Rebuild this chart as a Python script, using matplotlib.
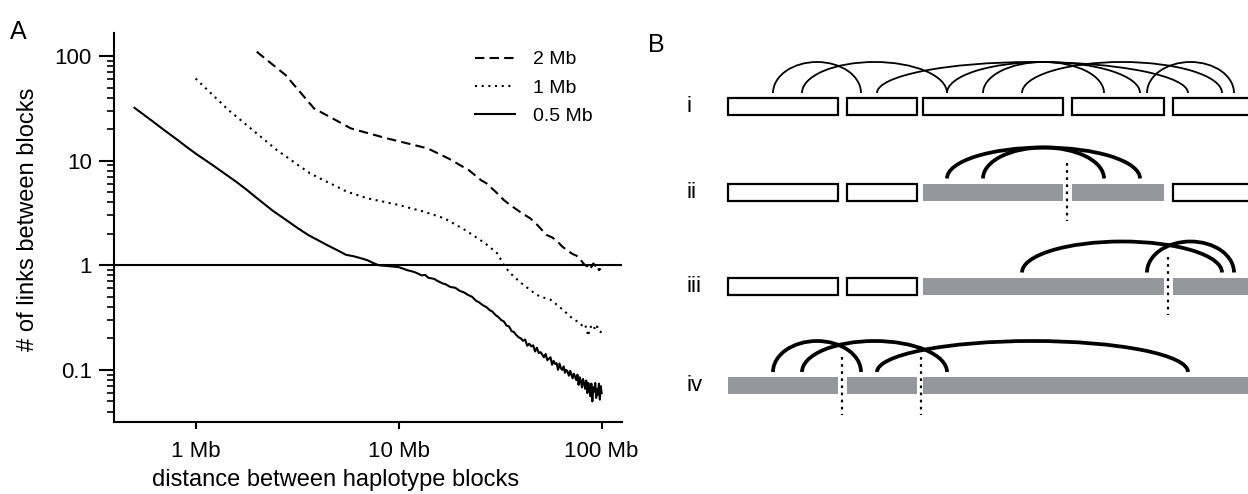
import numpy as np
import matplotlib
matplotlib.use("Agg")
import matplotlib.pyplot as plt
from matplotlib.patches import Rectangle, Arc

plt.rcParams["font.family"] = ["Liberation Sans", "DejaVu Sans"]

# ---- panel A: links between blocks vs. distance (Mb), one series per block size
x_2mb = [2, 2.2, 2.4, 2.77, 3.2, 3.83, 4.3, 5, 5.8, 7, 8.8, 11.1, 13.9, 17.6, 20,
         22.2, 25.5, 27, 30, 33, 35.4, 40, 44.5, 48, 53.5, 57, 60, 64, 68, 72,
         75, 78, 81, 83, 85, 87, 89, 91, 93, 95, 97, 99]
y_2mb = [110, 94.7, 82.6, 66, 47.6, 31.6, 28, 23.9, 20.4, 18.4, 16.3, 14.6, 13.1,
         10.5, 9.1, 8.1, 6.5, 6.1, 5.06, 4.2, 3.77, 3.2, 2.81, 2.45, 1.95, 1.85,
         1.72, 1.51, 1.38, 1.28, 1.24, 1.16, 1.05, 1.0, 0.98, 1.03, 0.96, 1.04,
         0.99, 1.02, 0.9, 0.93]

x_1mb = [1, 1.1, 1.2, 1.3, 1.45, 1.6, 1.8, 2.0, 2.25, 2.5, 2.8, 3.2, 3.65, 4.2,
         4.8, 5.55, 6.2, 7, 8, 9, 10, 11.5, 13.3, 15, 16.8, 19, 21.2, 24, 26.7,
         28.5, 30.6, 32, 33, 34, 35.5, 37, 40, 44.5, 48, 52, 55.8, 58, 60, 63,
         66, 70.5, 74, 78, 81, 83, 85, 86, 87, 89, 91, 93, 95, 97, 99, 100]
y_1mb = [61, 51, 43.4, 37.4, 30.5, 26.1, 21.6, 18.2, 15.1, 12.7, 10.9, 9.07, 7.6,
         6.6, 5.83, 5.06, 4.72, 4.37, 4.14, 3.94, 3.77, 3.51, 3.26, 3.02, 2.81,
         2.46, 2.18, 1.86, 1.62, 1.46, 1.30, 1.12, 1.0, 0.93, 0.84, 0.78, 0.68,
         0.58, 0.52, 0.49, 0.47, 0.45, 0.42, 0.39, 0.36, 0.32, 0.30, 0.28, 0.26,
         0.27, 0.23, 0.21, 0.25, 0.26, 0.27, 0.24, 0.26, 0.235, 0.23, 0.235]

x_05mb = [0.5, 0.6, 0.7, 0.8, 0.9, 1.0, 1.2, 1.4, 1.6, 1.8, 2.0, 2.4, 2.8, 3.2,
          3.6, 4.0, 4.5, 5.0, 5.5, 6.0, 6.5, 7.0, 7.5, 8.0, 8.5, 9.0, 9.5, 10,
          10.5, 11, 11.5, 12, 12.5, 13, 13.5, 14, 14.5, 15, 15.5, 16, 16.5, 17,
          18, 19, 20, 21, 22, 23, 24, 25, 26, 27, 28, 29, 30, 31, 32, 33, 34, 35,
          36, 37, 38, 39, 40, 41, 42, 43, 44, 45, 46, 47, 48, 49, 50, 51, 52, 53,
          54, 55, 56, 57, 58, 59, 60, 61, 62, 63, 64, 65, 66, 67, 68, 69, 70, 71,
          72, 73, 74, 75, 76, 77, 78, 79, 80, 81, 82, 83, 84, 85, 86, 87, 88, 89,
          90, 91, 92, 93, 94, 95, 96, 97, 98, 99, 100]
y_05mb = [32, 24.6, 19.6, 16.2, 13.6, 11.7, 9.2, 7.45, 6.2, 5.2, 4.4, 3.32, 2.7,
          2.25, 1.94, 1.74, 1.54, 1.39, 1.26, 1.22, 1.17, 1.12, 1.05, 1.0, 0.99,
          0.98, 0.97, 0.96, 0.93, 0.90, 0.88, 0.86, 0.83, 0.80, 0.81, 0.76, 0.75,
          0.74, 0.71, 0.69, 0.67, 0.66, 0.62, 0.61, 0.57, 0.55, 0.52, 0.50, 0.46,
          0.44, 0.415, 0.40, 0.375, 0.36, 0.335, 0.32, 0.30, 0.29, 0.265, 0.26,
          0.235, 0.23, 0.215, 0.205, 0.2, 0.19, 0.195, 0.17, 0.178, 0.168, 0.172,
          0.15, 0.163, 0.145, 0.148, 0.14, 0.132, 0.142, 0.124, 0.128, 0.132,
          0.112, 0.122, 0.114, 0.116, 0.1, 0.115, 0.104, 0.1, 0.108, 0.094, 0.1,
          0.096, 0.088, 0.098, 0.09, 0.083, 0.092, 0.086, 0.08, 0.09, 0.072,
          0.085, 0.078, 0.068, 0.082, 0.074, 0.066, 0.079, 0.06, 0.075, 0.066,
          0.056, 0.074, 0.05, 0.068, 0.062, 0.075, 0.054, 0.066, 0.058, 0.074,
          0.052, 0.07, 0.06]

series_labels = ["2 Mb", "1 Mb", "0.5 Mb"]
x_ticks = [1, 10, 100]
x_ticklabels = ["1 Mb", "10 Mb", "100 Mb"]
y_ticks = [0.1, 1, 10, 100]
y_ticklabels = ["0.1", "1", "10", "100"]

# ---- panel B: schematic of haplotype blocks (schematic units along the chromosome)
row_labels = ["i", "ii", "iii", "iv"]
row_y = [106.5, 192, 286, 385.5]
# (start, end, phased/filled)
row_segments = [
    [(0, 110, False), (119, 189, False), (195, 335, False), (344, 436, False), (445, 540, False)],
    [(0, 110, False), (119, 189, False), (195, 335, True), (344, 436, True), (445, 540, False)],
    [(0, 110, False), (119, 189, False), (195, 436, True), (445, 540, True)],
    [(0, 110, True), (119, 189, True), (195, 540, True)],
]
# linking read pairs (left end, right end)
row_arcs = [
    [(45, 133), (74, 219), (149, 460), (219, 412), (255, 376), (294, 494), (419, 506)],
    [(219, 412), (255, 376)],
    [(294, 494), (419, 506)],
    [(45, 133), (74, 219), (149, 460)],
]
row_breaks = [[], [339], [440], [114, 193]]

fig = plt.figure(figsize=(12.48, 4.94), dpi=100)

# ---------------- panel A
ax = fig.add_axes([0.0913, 0.1464, 0.4071, 0.7862])
ax.plot(x_2mb, y_2mb, color="black", lw=1.5, ls=(0, (4.5, 2.5)), label=series_labels[0])
ax.plot(x_1mb, y_1mb, color="black", lw=1.5, ls=(0, (1.0, 2.2)), label=series_labels[1])
ax.plot(x_05mb, y_05mb, color="black", lw=1.5, ls="-", label=series_labels[2])
ax.axhline(1, color="black", lw=1.5)

ax.set_xscale("log")
ax.set_yscale("log")
ax.set_xlim(0.396, 126)
ax.set_ylim(0.032, 165)
ax.set_xticks(x_ticks)
ax.set_xticklabels(x_ticklabels)
ax.xaxis.set_minor_locator(matplotlib.ticker.NullLocator())
ax.set_yticks(y_ticks)
ax.set_yticklabels(y_ticklabels)
ax.yaxis.set_minor_locator(matplotlib.ticker.LogLocator(base=10, subs=np.arange(2, 10)))
ax.yaxis.set_minor_formatter(matplotlib.ticker.NullFormatter())

ax.spines["top"].set_visible(False)
ax.spines["right"].set_visible(False)
for s in ["left", "bottom"]:
    ax.spines[s].set_linewidth(1.5)
ax.tick_params(axis="y", which="major", direction="out", length=11, width=1.5,
               pad=5, labelsize=16)
ax.tick_params(axis="y", which="minor", direction="out", length=5, width=1.2)
ax.tick_params(axis="x", which="major", direction="out", length=5, width=1.5,
               pad=9, labelsize=16)

ax.set_xlabel("distance between haplotype blocks", fontsize=17)
ax.xaxis.set_label_coords(0.437, -0.122)
ax.set_ylabel("# of links between blocks", fontsize=17)
ax.yaxis.set_label_coords(-0.147, 0.52)

ax.legend(loc="upper left", bbox_to_anchor=(0.71, 0.955), frameon=False,
          fontsize=14, handlelength=2.1, handletextpad=0.9, labelspacing=0.55,
          borderpad=0, borderaxespad=0)

fig.text(10 / 1248, 1 - 20 / 494, "A", fontsize=18, va="top", ha="left")
fig.text(648 / 1248, 1 - 33 / 494, "B", fontsize=18, va="top", ha="left")

# ---------------- panel B
bx = fig.add_axes([640 / 1248, 0, 608 / 1248, 1])
bx.set_xlim(-88, 520)
bx.set_ylim(494, 0)
bx.axis("off")

gray = "#96979b"
box_h = 17
arc_gap = 13.5
arc_h = 31
for i, yc in enumerate(row_y):
    for (a, b, filled) in row_segments[i]:
        if filled:
            bx.add_patch(Rectangle((a, yc - box_h / 2), b - a, box_h,
                                   facecolor=gray, edgecolor="none"))
        else:
            bx.add_patch(Rectangle((a, yc - box_h / 2), b - a, box_h,
                                   facecolor="white", edgecolor="black", lw=1.6))
    lw = 1.3 if i == 0 else 2.7
    base = yc - arc_gap
    for (a, b) in row_arcs[i]:
        bx.add_patch(Arc(((a + b) / 2, base), b - a, 2 * arc_h,
                         theta1=180, theta2=360, color="black", lw=lw))
    for xb in row_breaks[i]:
        bx.vlines(xb, yc - 29, yc + 29, colors="black", lw=1.6,
                  linestyles=(0, (1.2, 2.0)))
    bx.text(-42, yc, row_labels[i], fontsize=16, va="center", ha="left")

fig.savefig("out.png", dpi=100)
